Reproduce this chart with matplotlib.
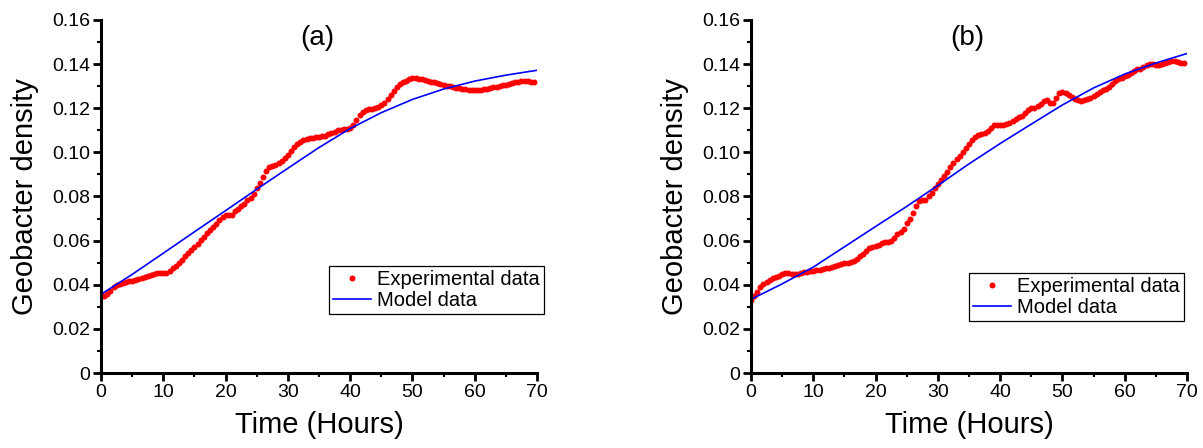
import numpy as np
import matplotlib.pyplot as plt

plt.rcParams['font.family'] = ['Liberation Sans', 'DejaVu Sans']

# experimental samples every half hour, model curve read every 5 hours
hours = np.arange(0, 70, 0.5)
model_hours = np.arange(0, 75, 5)

exp_a = [0.0354, 0.0347, 0.0356, 0.0372, 0.0388, 0.0398, 0.0404, 0.0408, 0.0412, 0.0416,
         0.0419, 0.0423, 0.0428, 0.0432, 0.0436, 0.0441, 0.0445, 0.0450, 0.0455, 0.0453,
         0.0451, 0.0453, 0.0462, 0.0474, 0.0487, 0.0500, 0.0514, 0.0529, 0.0543, 0.0557,
         0.0571, 0.0586, 0.0601, 0.0618, 0.0634, 0.0649, 0.0663, 0.0677, 0.0692, 0.0709,
         0.0715, 0.0716, 0.0718, 0.0733, 0.0744, 0.0756, 0.0768, 0.0782, 0.0795, 0.0812,
         0.0840, 0.0863, 0.0890, 0.0917, 0.0933, 0.0939, 0.0944, 0.0950, 0.0960, 0.0973,
         0.0990, 0.1005, 0.1023, 0.1036, 0.1046, 0.1054, 0.1059, 0.1063, 0.1066, 0.1068,
         0.1069, 0.1072, 0.1075, 0.1081, 0.1087, 0.1094, 0.1101, 0.1103, 0.1104, 0.1106,
         0.1111, 0.1124, 0.1147, 0.1170, 0.1184, 0.1192, 0.1196, 0.1198, 0.1201, 0.1205,
         0.1213, 0.1225, 0.1243, 0.1262, 0.1280, 0.1297, 0.1311, 0.1318, 0.1325, 0.1333,
         0.1336, 0.1336, 0.1333, 0.1331, 0.1328, 0.1325, 0.1321, 0.1317, 0.1313, 0.1310,
         0.1306, 0.1302, 0.1299, 0.1296, 0.1293, 0.1290, 0.1287, 0.1285, 0.1283, 0.1283,
         0.1283, 0.1283, 0.1283, 0.1285, 0.1287, 0.1291, 0.1294, 0.1297, 0.1300, 0.1304,
         0.1307, 0.1311, 0.1314, 0.1317, 0.1321, 0.1324, 0.1325, 0.1325, 0.1321, 0.1317]

exp_b = [0.0333, 0.0350, 0.0366, 0.0388, 0.0404, 0.0414, 0.0422, 0.0429, 0.0435, 0.0441,
         0.0447, 0.0451, 0.0451, 0.0449, 0.0449, 0.0450, 0.0454, 0.0457, 0.0459, 0.0461,
         0.0463, 0.0466, 0.0468, 0.0471, 0.0474, 0.0478, 0.0482, 0.0486, 0.0490, 0.0494,
         0.0497, 0.0500, 0.0504, 0.0508, 0.0517, 0.0529, 0.0540, 0.0553, 0.0565, 0.0569,
         0.0574, 0.0581, 0.0587, 0.0592, 0.0594, 0.0600, 0.0614, 0.0628, 0.0641, 0.0654,
         0.0678, 0.0700, 0.0725, 0.0755, 0.0780, 0.0785, 0.0786, 0.0801, 0.0818, 0.0837,
         0.0856, 0.0875, 0.0894, 0.0913, 0.0932, 0.0951, 0.0968, 0.0983, 0.1002, 0.1021,
         0.1040, 0.1055, 0.1069, 0.1078, 0.1083, 0.1086, 0.1095, 0.1109, 0.1122, 0.1125,
         0.1122, 0.1123, 0.1129, 0.1135, 0.1144, 0.1153, 0.1159, 0.1167, 0.1177, 0.1190,
         0.1199, 0.1202, 0.1210, 0.1221, 0.1233, 0.1236, 0.1224, 0.1222, 0.1248, 0.1268,
         0.1274, 0.1270, 0.1258, 0.1250, 0.1244, 0.1236, 0.1232, 0.1236, 0.1241, 0.1247,
         0.1256, 0.1266, 0.1275, 0.1281, 0.1288, 0.1296, 0.1309, 0.1322, 0.1331, 0.1338,
         0.1344, 0.1352, 0.1361, 0.1370, 0.1376, 0.1380, 0.1387, 0.1394, 0.1402, 0.1401,
         0.1398, 0.1398, 0.1400, 0.1403, 0.1410, 0.1414, 0.1414, 0.1411, 0.1407, 0.1403]

model_a = [0.0357, 0.0447, 0.0543, 0.0640, 0.0736, 0.0833, 0.0928, 0.1022,
           0.1108, 0.1180, 0.1240, 0.1287, 0.1323, 0.1350, 0.1372]
model_b = [0.0334, 0.0404, 0.0480, 0.0572, 0.0664, 0.0755, 0.0850, 0.0948,
           0.1040, 0.1128, 0.1215, 0.1292, 0.1355, 0.1405, 0.1448]

x_ticks = [0, 10, 20, 30, 40, 50, 60, 70]
y_ticks = [0, 0.02, 0.04, 0.06, 0.08, 0.10, 0.12, 0.14, 0.16]
y_ticklabels = ['0', '0.02', '0.04', '0.06', '0.08', '0.10', '0.12', '0.14', '0.16']


def draw_panel(ax, exp, model, tag, leg_pos):
    ax.plot(hours, exp, 'o', color='red', ms=4.3, mec='none', label='Experimental data')
    ax.plot(model_hours, model, color='blue', lw=1.2, label='Model data')

    ax.set_xlim(0, 70)
    ax.set_ylim(0, 0.16)
    ax.set_xticks(x_ticks)
    ax.set_xticks(np.arange(5, 70, 10), minor=True)
    ax.set_yticks(y_ticks)
    ax.set_yticklabels(y_ticklabels)
    ax.set_yticks(np.arange(0.01, 0.16, 0.02), minor=True)

    for side in ['top', 'right']:
        ax.spines[side].set_visible(False)
    for side in ['left', 'bottom']:
        ax.spines[side].set_linewidth(2.2)
    ax.tick_params(which='major', direction='out', length=6, width=2, labelsize=14, pad=2)
    ax.tick_params(which='minor', direction='out', length=3, width=1.5)

    ax.set_xlabel('Time (Hours)', fontsize=21, va='center')
    ax.set_ylabel('Geobacter density', fontsize=21, va='center')
    ax.xaxis.set_label_coords(0.5, -0.147)
    ax.yaxis.set_label_coords(-0.174, 0.5)

    ax.text(34.8, 0.152, tag, ha='center', va='center', fontsize=20)

    leg = ax.legend(loc='upper left', bbox_to_anchor=leg_pos, borderaxespad=0,
                    fontsize=14.5, numpoints=1, fancybox=False, framealpha=1,
                    edgecolor='black', borderpad=0.2, labelspacing=0.1,
                    handlelength=1.9, handletextpad=0.3)
    leg.get_frame().set_linewidth(0.9)


fig = plt.figure(figsize=(12.03, 4.48), dpi=100)
ax_a = fig.add_axes([0.084, 0.1674, 0.3624, 0.788])
ax_b = fig.add_axes([0.6243, 0.1674, 0.3624, 0.788])

draw_panel(ax_a, exp_a, model_a, '(a)', (0.523, 0.303))
draw_panel(ax_b, exp_b, model_b, '(b)', (0.50, 0.283))

fig.savefig('out.png', dpi=100)
